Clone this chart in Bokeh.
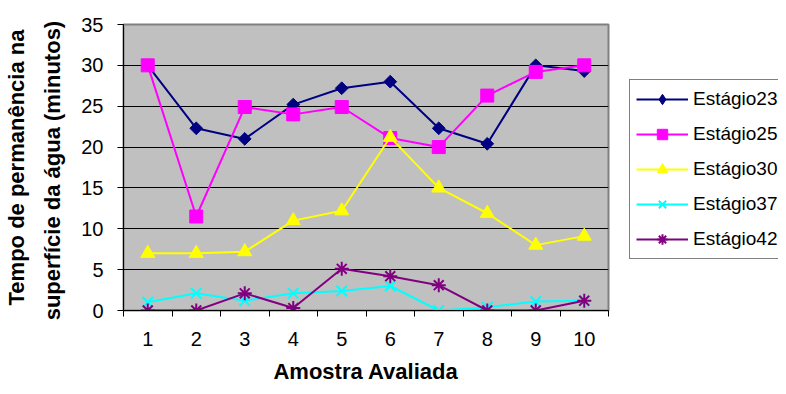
import math
from bokeh.plotting import figure
from bokeh.layouts import row
from bokeh.models import FixedTicker, Legend, LegendItem, Range1d
from bokeh.embed import file_html
from bokeh.resources import INLINE

categories = ["1", "2", "3", "4", "5", "6", "7", "8", "9", "10"]
estagio23 = [30.0, 22.3, 21.0, 25.2, 27.2, 28.0, 22.3, 20.4, 30.0, 29.3]
estagio25 = [30.0, 11.5, 24.9, 24.0, 24.9, 21.1, 20.0, 26.3, 29.2, 30.0]
estagio30 = [7.0, 7.0, 7.2, 11.0, 12.2, 21.2, 15.0, 11.9, 8.0, 9.1]
estagio37 = [1.0, 2.1, 1.2, 2.1, 2.4, 3.0, 0.0, 0.4, 1.1, 1.2]
estagio42 = [0.0, 0.0, 2.1, 0.3, 5.1, 4.2, 3.1, 0.0, 0.0, 1.2]
y_ticks = [0, 5, 10, 15, 20, 25, 30, 35]

FONT = "Liberation Sans"
x = list(range(1, len(categories) + 1))

p = figure(width=620, height=386, output_backend="svg", toolbar_location=None,
           x_range=Range1d(0.5, len(categories) + 0.5), y_range=Range1d(0, 35),
           min_border_left=123, min_border_right=12, min_border_top=24,
           min_border_bottom=76)
p.background_fill_color = "#C0C0C0"
p.border_fill_color = "white"
p.outline_line_color = "#808080"
p.outline_line_width = 2

p.xgrid.grid_line_color = None
p.ygrid.grid_line_color = "black"
p.ygrid.grid_line_width = 1
p.ygrid.ticker = FixedTicker(ticks=y_ticks)

# y axis
p.yaxis.ticker = FixedTicker(ticks=y_ticks, minor_ticks=[])
p.yaxis.major_tick_out = 6
p.yaxis.major_tick_in = 0
p.yaxis.minor_tick_out = 0
p.yaxis.minor_tick_in = 0
p.yaxis.major_label_standoff = 14
p.yaxis.axis_line_color = "black"
p.yaxis.major_tick_line_color = "black"
p.yaxis.axis_label = "Tempo de permanência na\nsuperfície  da água (minutos)"
p.yaxis.axis_label_standoff = 13
p.yaxis.axis_label_text_line_height = 1.45

# x axis
p.xaxis.ticker = FixedTicker(ticks=x, minor_ticks=[i + 0.5 for i in range(0, len(categories) + 1)])
p.xaxis.major_label_overrides = {xi: c for xi, c in zip(x, categories)}
p.xaxis.major_tick_out = 0
p.xaxis.major_tick_in = 0
p.xaxis.minor_tick_out = 6
p.xaxis.minor_tick_in = 0
p.xaxis.minor_tick_line_color = "black"
p.xaxis.major_label_standoff = 15
p.xaxis.axis_line_color = "black"
p.xaxis.axis_label = "Amostra Avaliada"
p.xaxis.axis_label_standoff = 10

for ax in (p.xaxis, p.yaxis):
    ax.major_label_text_font = FONT
    ax.major_label_text_font_size = "20px"
    ax.major_label_text_color = "black"
    ax.axis_label_text_font = FONT
    ax.axis_label_text_font_style = "bold"
    ax.axis_label_text_font_size = "22px"
    ax.axis_label_text_color = "black"

series = [
    ("Estágio23", estagio23, "#000080", "square", 9, math.pi / 4, "diamond"),
    ("Estágio25", estagio25, "#FF00FF", "square", 13, 0, "square"),
    ("Estágio30", estagio30, "#FFFF00", "triangle", 14, 0, "triangle"),
    ("Estágio37", estagio37, "#00FFFF", "x", 15, 0, "x"),
    ("Estágio42", estagio42, "#800080", "asterisk", 14, 0, "asterisk"),
]

# separate legend panel
q = figure(width=158, height=386, output_backend="svg", toolbar_location=None,
           x_range=Range1d(0, 1), y_range=Range1d(0, 1),
           x_axis_location=None, y_axis_location=None,
           min_border_left=0, min_border_right=0, min_border_top=0, min_border_bottom=0)
q.grid.visible = False
q.outline_line_color = None
q.background_fill_color = "white"
q.border_fill_color = "white"

items = []
nan = float("nan")
for name, ys, color, marker, size, ang, leg_marker in series:
    lw = 2 if marker in ("x", "asterisk") else 1
    p.line(x, ys, line_color=color, line_width=2)
    p.scatter(x, ys, marker=marker, size=size, angle=ang,
              fill_color=color, line_color=color, line_width=lw)
    l1 = q.line([nan, nan], [nan, nan], line_color=color, line_width=2)
    l2 = q.scatter([nan], [nan], marker=leg_marker, size=size,
                   fill_color=color, line_color=color, line_width=lw)
    items.append(LegendItem(label=name, renderers=[l1, l2]))

legend = Legend(items=items, location=(9, 51))
legend.border_line_color = "black"
legend.border_line_width = 1
legend.background_fill_color = "white"
legend.background_fill_alpha = 1
legend.label_text_font = FONT
legend.label_text_font_size = "19px"
legend.label_text_color = "black"
legend.glyph_width = 52
legend.glyph_height = 26
legend.label_height = 26
legend.spacing = 9
legend.padding = 6
legend.margin = 0
legend.label_standoff = 5
q.add_layout(legend, "center")

layout = row(p, q, spacing=0)
open("out.html", "w").write(file_html(layout, INLINE))
